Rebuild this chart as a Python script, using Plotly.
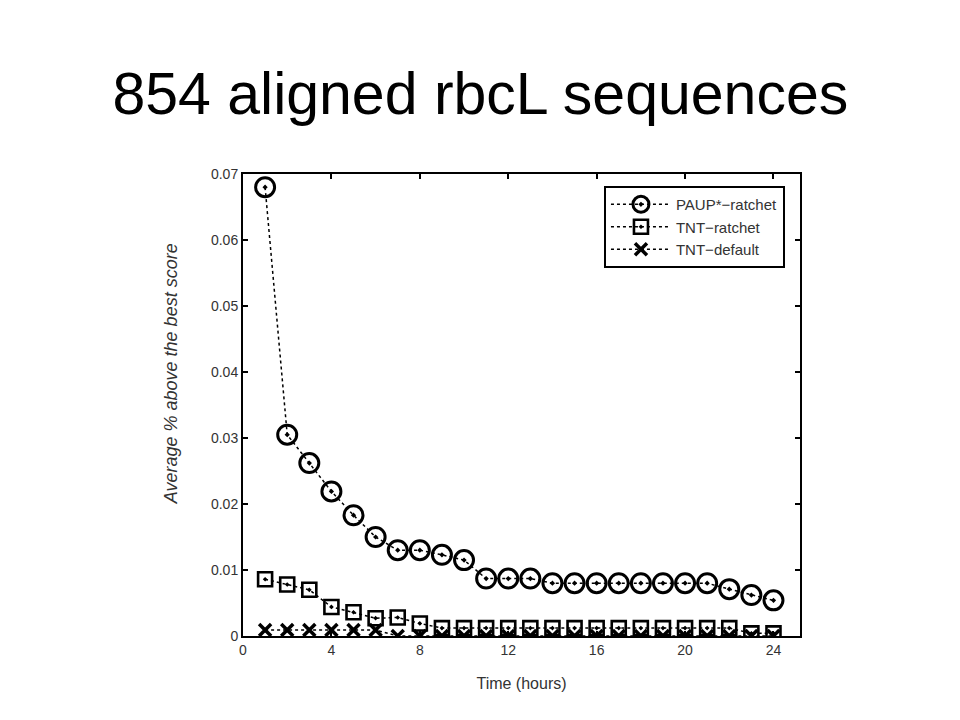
import plotly.graph_objects as go

hours = list(range(1, 25))
paup_ratchet = [0.068, 0.0305, 0.0262, 0.0219, 0.0183, 0.0150, 0.0130, 0.0130, 0.0123, 0.0115,
                0.0087, 0.0087, 0.0087, 0.0080, 0.0080, 0.0080, 0.0080, 0.0080, 0.0080, 0.0080,
                0.0080, 0.0071, 0.0062, 0.0054]
tnt_ratchet = [0.0086, 0.0078, 0.0070, 0.0044, 0.0036, 0.0027, 0.0028, 0.0019, 0.0012, 0.0012,
               0.0012, 0.0012, 0.0012, 0.0012, 0.0012, 0.0012, 0.0012, 0.0012, 0.0012, 0.0012,
               0.0012, 0.0012, 0.0004, 0.0004]
tnt_default = [0.0009, 0.0009, 0.0009, 0.0009, 0.0009, 0.0009, 0.0, 0.0, 0.0, 0.0,
               0.0, 0.0, 0.0, 0.0, 0.0, 0.0, 0.0, 0.0, 0.0, 0.0,
               0.0, 0.0, 0.0, 0.0]
x_ticks = [0, 4, 8, 12, 16, 20, 24]
y_ticks = [0, 0.01, 0.02, 0.03, 0.04, 0.05, 0.06, 0.07]
y_tick_labels = ["0", "0.01", "0.02", "0.03", "0.04", "0.05", "0.06", "0.07"]

FONT = "Liberation Sans, Arial"

fig = go.Figure()
fig.add_trace(go.Scatter(
    x=hours, y=paup_ratchet, name="PAUP*\u2212ratchet", mode="lines+markers",
    line=dict(color="black", dash="dot", width=1.5),
    marker=dict(symbol="circle-open-dot", size=19, color="black", line=dict(width=3)),
))
fig.add_trace(go.Scatter(
    x=hours, y=tnt_ratchet, name="TNT\u2212ratchet", mode="lines+markers",
    line=dict(color="black", dash="dot", width=1.5),
    marker=dict(symbol="square-open-dot", size=14, color="black", line=dict(width=2.6)),
))
fig.add_trace(go.Scatter(
    x=hours, y=tnt_default, name="TNT\u2212default", mode="lines+markers",
    line=dict(color="black", dash="dot", width=1.5),
    marker=dict(symbol="x-thin-open", size=12, color="black", line=dict(width=3.5)),
))

axis_common = dict(
    showgrid=False, zeroline=False, showline=True, linecolor="black", linewidth=2,
    mirror="ticks", ticks="inside", ticklen=5, tickcolor="black", tickwidth=1.5,
    tickfont=dict(family=FONT, size=14, color="#333"),
)

fig.update_layout(
    width=960, height=720,
    paper_bgcolor="white", plot_bgcolor="white",
    margin=dict(l=235, r=168, t=166, b=92),
    title=dict(text="854 aligned rbcL sequences", x=0.492, xanchor="center",
               y=0.882, yanchor="middle",
               font=dict(family=FONT, size=59, color="black")),
    xaxis=dict(range=[0, 25.2], tickvals=x_ticks,
               title=dict(text="Time (hours)", standoff=21,
                          font=dict(family=FONT, size=16, color="#333")),
               **axis_common),
    yaxis=dict(range=[0, 0.07], tickvals=y_ticks, ticktext=y_tick_labels,
               **axis_common),
    legend=dict(x=0.973, y=0.974, xanchor="right", yanchor="top",
                bordercolor="black", borderwidth=2, bgcolor="white",
                font=dict(family=FONT, size=15, color="#333"),
                itemwidth=60, tracegroupgap=0),
    showlegend=True,
    annotations=[dict(
        text="<i>Average % above the best score</i>", textangle=-90,
        xref="paper", yref="paper", x=-0.13, y=0.568,
        xanchor="center", yanchor="middle", showarrow=False,
        font=dict(family=FONT, size=18, color="#333"),
    )],
)

fig.write_html("out.html")
